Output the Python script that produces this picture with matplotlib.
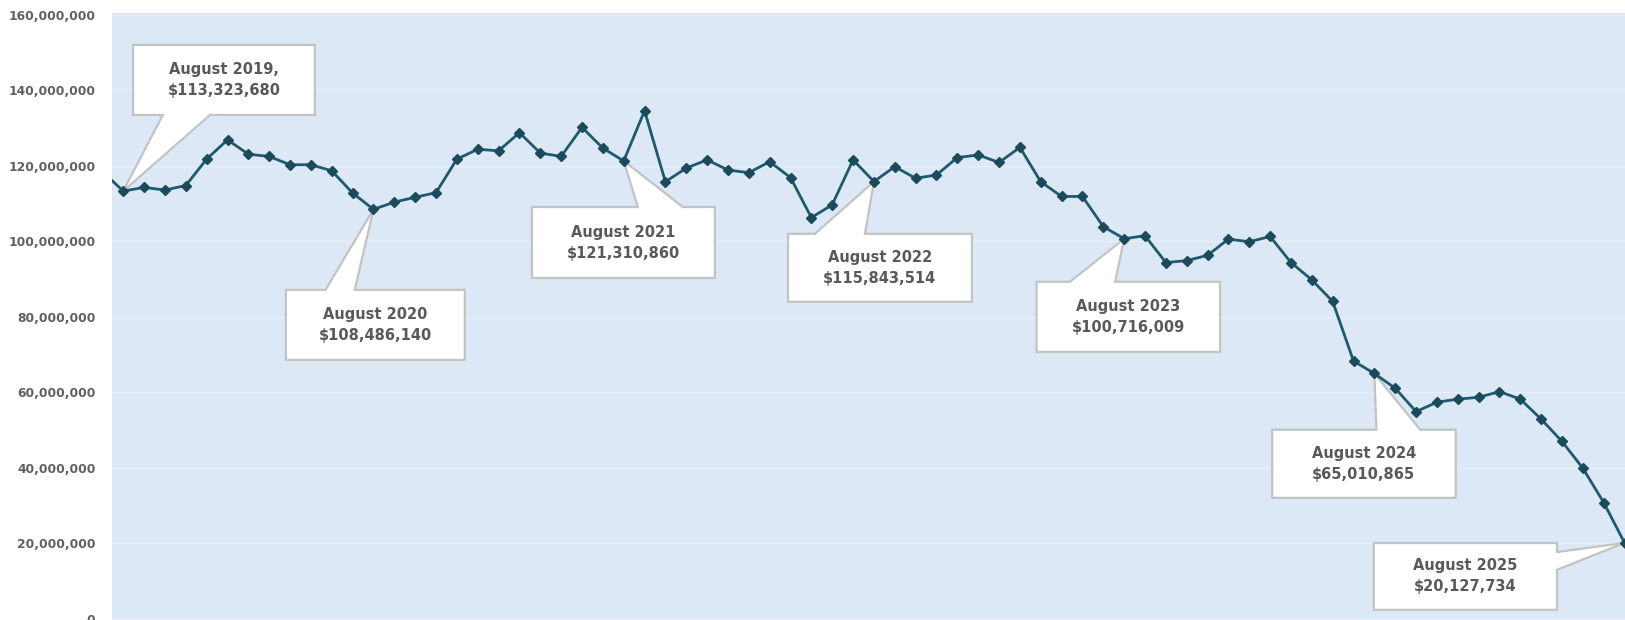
"""Monthly revenue line with callouts for each August, Jul 2019 - Aug 2025."""

import matplotlib.pyplot as plt
import numpy as np
import pandas as pd
from matplotlib.patches import Polygon
from matplotlib.ticker import FuncFormatter

months = pd.date_range('2019-07-01', '2025-08-01', freq='MS')
# monthly values in millions of dollars
revenue = [
    118.5, 113.32368, 114.3, 113.6, 114.8, 121.8,
    126.9, 123.1, 122.5, 120.3, 120.3, 118.7, 112.8, 108.48614, 110.4, 111.7, 112.9, 121.8,
    124.4, 124.0, 128.8, 123.4, 122.5, 130.2, 124.7, 121.31086, 134.6, 115.8, 119.4, 121.6,
    118.9, 118.2, 121.1, 116.9, 106.3, 109.7, 121.6, 115.843514, 119.8, 116.7, 117.6, 122.2,
    122.9, 120.9, 124.9, 115.8, 111.9, 111.9, 103.9, 100.716009, 101.5, 94.4, 94.9, 96.3,
    100.6, 99.9, 101.3, 94.4, 89.8, 84.1, 68.3, 65.010865, 61.1, 54.9, 57.4, 58.2,
    58.7, 60.2, 58.2, 52.9, 47.0, 39.9, 30.8, 20.127734,
]
callout_months = ['2019-08', '2020-08', '2021-08', '2022-08', '2023-08', '2024-08', '2025-08']

# box extents (x0, x1 in month index, y0, y1 in millions), pointer side and base
layout = [
    ((1.47, 10.19, 133.5, 152.05), 'bottom', (2.9, 5.16)),
    ((8.80, 17.38, 68.6, 87.15), 'top', (10.7, 12.1)),
    ((20.6, 29.37, 90.3, 109.1), 'top', (25.68, 27.84)),
    ((32.88, 41.7, 84.0, 102.0), 'top', (34.17, 36.57)),
    ((44.8, 53.6, 70.7, 89.3), 'top', (46.4, 48.57)),
    ((56.1, 64.9, 32.05, 50.1), 'top', (61.1, 63.2)),
    ((60.97, 69.76, 2.4, 20.1), 'right', (13.0, 17.7)),
]

line_color = '#1d5a6e'
text_color = '#595959'

x = np.arange(len(months))
y = np.array(revenue) * 1e6

fig = plt.figure(figsize=(16.25, 6.2), dpi=100)
ax = fig.add_axes([112 / 1625, 0, 1 - 112 / 1625, 1 - 13 / 620])
ax.set_facecolor('#dce8f5')
for s in ax.spines.values():
    s.set_visible(False)

ax.plot(x, y, color=line_color, lw=2, marker='D', ms=5, mfc='#1a4a5b', mec='#1a4a5b', zorder=5)

ax.set_xlim(0.46, 73.02)
ax.set_ylim(-0.3e6, 160.5e6)
ax.set_yticks(np.arange(0, 160e6 + 1, 20e6))
ax.yaxis.set_major_formatter(FuncFormatter(lambda v, p: f'{v:,.0f}'))
ax.set_xticks([])
ax.tick_params(axis='y', length=0, pad=12, labelsize=8.8, labelcolor='#606060')
for lab in ax.get_yticklabels():
    lab.set_fontweight('bold')
ax.grid(axis='y', color='#e8eff9', lw=1)
ax.set_axisbelow(True)

for (m, (box, side, base)) in zip(callout_months, layout):
    idx = months.get_loc(pd.Timestamp(m + '-01'))
    tip = (x[idx], y[idx])
    x0, x1, y0, y1 = box
    y0, y1 = y0 * 1e6, y1 * 1e6
    if side == 'top':
        verts = [(x0, y0), (x1, y0), (x1, y1), (base[1], y1), tip, (base[0], y1), (x0, y1)]
    elif side == 'bottom':
        verts = [(x0, y0), (base[0], y0), tip, (base[1], y0), (x1, y0), (x1, y1), (x0, y1)]
    else:
        verts = [(x0, y0), (x1, y0), (x1, base[0] * 1e6), tip, (x1, base[1] * 1e6), (x1, y1), (x0, y1)]
    ax.add_patch(Polygon(verts, closed=True, fc='white', ec='#c3c3c3', lw=1.6, zorder=3))
    date = months[idx]
    sep = ',' if date.year == 2019 else ''
    label = f'{date:%B %Y}{sep}\n${round(revenue[idx] * 1e6):,}'
    ax.text((x0 + x1) / 2, (y0 + y1) / 2, label, ha='center', va='center', fontsize=10.5,
            fontweight='bold', color=text_color, linespacing=1.5, zorder=4)

plt.savefig('out.png', dpi=100)
